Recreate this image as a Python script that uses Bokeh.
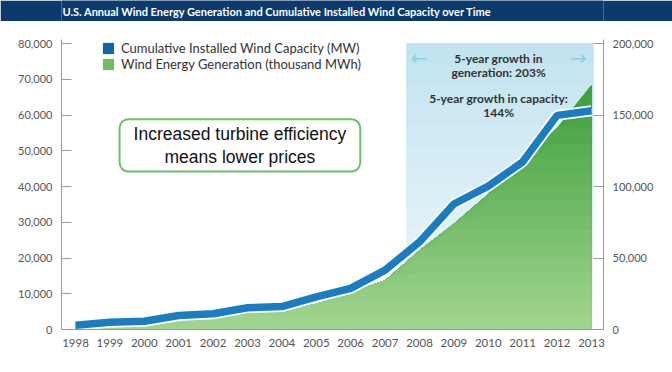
import numpy as np
from bokeh.plotting import figure
from bokeh.models import (Range1d, LinearAxis, FixedTicker, NumeralTickFormatter,
                          Legend, LegendItem, Label, BoxAnnotation, ColumnDataSource)
from bokeh.layouts import column
from bokeh.embed import file_html
from bokeh.resources import INLINE

# ---------------- data ----------------
years = [1998, 1999, 2000, 2001, 2002, 2003, 2004, 2005, 2006, 2007,
         2008, 2009, 2010, 2011, 2012, 2013]
capacity_mw = [1200, 2000, 2300, 3900, 4400, 6100, 6400, 9100, 11500, 16600,
               24500, 35100, 40100, 46900, 59900, 61200]
generation_thousand_mwh = [2500, 3500, 4500, 6700, 10400, 11200, 14100, 17800, 26600, 34500,
                           55400, 73900, 94700, 120200, 140800, 171000]
year_labels = [str(y) for y in years]
left_ticks = [0, 10000, 20000, 30000, 40000, 50000, 60000, 70000, 80000]
right_ticks = [0, 50000, 100000, 150000, 200000]

title_text = "U.S. Annual Wind Energy Generation and Cumulative Installed Wind Capacity over Time"
legend_labels = ["Cumulative Installed Wind Capacity (MW)",
                 "Wind Energy Generation (thousand MWh)"]
note_text = "Increased turbine efficiency\nmeans lower prices"
growth_lines = ["5-year growth in", "generation: 203%", "5-year growth in capacity:", "144%"]

NAVY = "#0c3a6c"
BLUE = "#1b7dc1"
BLUE_KEY = "#0f66ab"
GREEN_KEY = "#6cbf62"
AXIS = "#9a9a9a"
TICK_TEXT = "#555555"
FONT = "Lato"

W = 672
TITLE_H = 21
MAIN_H = 351

# ---------------- title bar ----------------
t = figure(width=W, height=TITLE_H, x_range=Range1d(0, W), y_range=Range1d(0, TITLE_H),
           output_backend="svg", toolbar_location=None, min_border=0,
           x_axis_location=None, y_axis_location=None,
           background_fill_color=NAVY, border_fill_color=NAVY, outline_line_color=None)
t.grid.visible = False
t.add_layout(Label(x=1, y=TITLE_H / 2, x_units="screen", y_units="screen", text=title_text,
                   text_color="white", text_font=FONT,
                   text_font_style="bold", text_font_size="11px", text_baseline="middle"))

# ---------------- main chart ----------------
LEFT_MAX = 80000 * 290 / 286
RIGHT_MAX = 200000 * 290 / 286
p = figure(width=W, height=MAIN_H,
           x_range=Range1d(1997.593, 2013.349), y_range=Range1d(0, LEFT_MAX),
           output_backend="svg", toolbar_location=None,
           min_border_left=61, min_border_right=69, min_border_top=18, min_border_bottom=43,
           outline_line_color=None)
p.extra_y_ranges = {"gen": Range1d(0, RIGHT_MAX)}
p.grid.visible = False

# highlighted 5-year window (vertical gradient)
NS = 14
c_top = np.array([194, 228, 240])
c_bot = np.array([242, 249, 252])
for k in range(NS):
    f = k / (NS - 1)
    c = (c_bot + (c_top - c_bot) * f).astype(int)
    p.add_layout(BoxAnnotation(left=2007.62, right=2013.05, bottom=k * 80000 / NS, top=80000,
                               fill_color="#%02x%02x%02x" % tuple(c), fill_alpha=1.0,
                               line_color=None, level="underlay"))

# generation area, gradient by height
gen = np.array(generation_thousand_mwh, dtype=float)
NG = 20
g_bot = np.array([160, 212, 142])
g_top = np.array([48, 152, 48])
for k in reversed(range(NG)):
    hi = (k + 1) * 200000 / NG
    f = k / (NG - 1)
    c = (g_bot + (g_top - g_bot) * f).astype(int)
    p.varea(x=years, y1=np.zeros(len(years)), y2=np.minimum(gen, hi),
            fill_color="#%02x%02x%02x" % tuple(c), y_range_name="gen")

# capacity line with white halo
p.line(years, capacity_mw, line_color="white", line_width=11)
p.line(years, capacity_mw, line_color=BLUE, line_width=7.5)

# axes
p.yaxis.ticker = FixedTicker(ticks=left_ticks)
p.yaxis.formatter = NumeralTickFormatter(format="0,0")
right = LinearAxis(y_range_name="gen", ticker=FixedTicker(ticks=right_ticks),
                   formatter=NumeralTickFormatter(format="0,0"))
p.add_layout(right, "right")
for ax in (p.yaxis[0], right):
    ax.major_tick_in = 10
    ax.major_tick_out = 0
    ax.minor_tick_line_color = None
    ax.major_label_standoff = 9
for ax in (p.yaxis[0], right, p.xaxis[0]):
    ax.axis_line_color = AXIS
    ax.major_tick_line_color = AXIS
    ax.major_label_text_color = TICK_TEXT
    ax.major_label_text_font = FONT
    ax.major_label_text_font_size = "11px"
p.xaxis.ticker = FixedTicker(ticks=years)
p.xaxis.major_label_overrides = dict(zip(years, year_labels))
p.xaxis.major_tick_line_color = None
p.xaxis.minor_tick_line_color = None
p.xaxis.major_label_standoff = 3
p.xaxis.major_label_text_font_size = "11.5px"

# legend with square keys (keys carry no data points)
nan_src = ColumnDataSource(dict(l=[np.nan], r=[np.nan], b=[np.nan], t=[np.nan]))
cap_key = p.quad(left="l", right="r", bottom="b", top="t", source=nan_src,
                 fill_color=BLUE_KEY, line_color=None)
gen_key = p.quad(left="l", right="r", bottom="b", top="t", source=nan_src,
                 fill_color=GREEN_KEY, line_color=None)
legend = Legend(items=[LegendItem(label=legend_labels[0], renderers=[cap_key]),
                       LegendItem(label=legend_labels[1], renderers=[gen_key])],
                location=(40, 257), glyph_width=14, glyph_height=14, label_standoff=6,
                spacing=0, padding=0, margin=0, border_line_color=None,
                background_fill_alpha=0, label_text_font=FONT, label_text_font_size="13px",
                label_text_color="#333333", label_height=15)
p.add_layout(legend)

# annotation box
p.add_layout(Label(x=2002.78, y=51500, text=note_text, text_align="center",
                   text_baseline="middle", text_font="Liberation Sans",
                   text_font_size="17.5px", text_line_height=1.12, text_color="#111111",
                   background_fill_color="white", border_line_color="#6cbf6a",
                   border_line_width=2, border_radius=9, padding=(14, 5)))

# growth notes
for txt, yv in zip(growth_lines, [75800, 71890, 64620, 60700]):
    p.add_layout(Label(x=2010.30, y=yv, text=txt, text_align="center", text_baseline="middle",
                       text_font=FONT, text_font_style="bold", text_font_size="12px",
                       text_color="#333333"))
for txt, xv in zip(["\u2190", "\u2192"], [2007.99, 2012.61]):
    p.add_layout(Label(x=xv, y=76080, text=txt, text_align="center", text_baseline="middle",
                       text_font="DejaVu Sans", text_font_size="20px", text_color="#8ccfe0"))

layout = column(t, p)
open("out.html", "w").write(file_html(layout, INLINE))
